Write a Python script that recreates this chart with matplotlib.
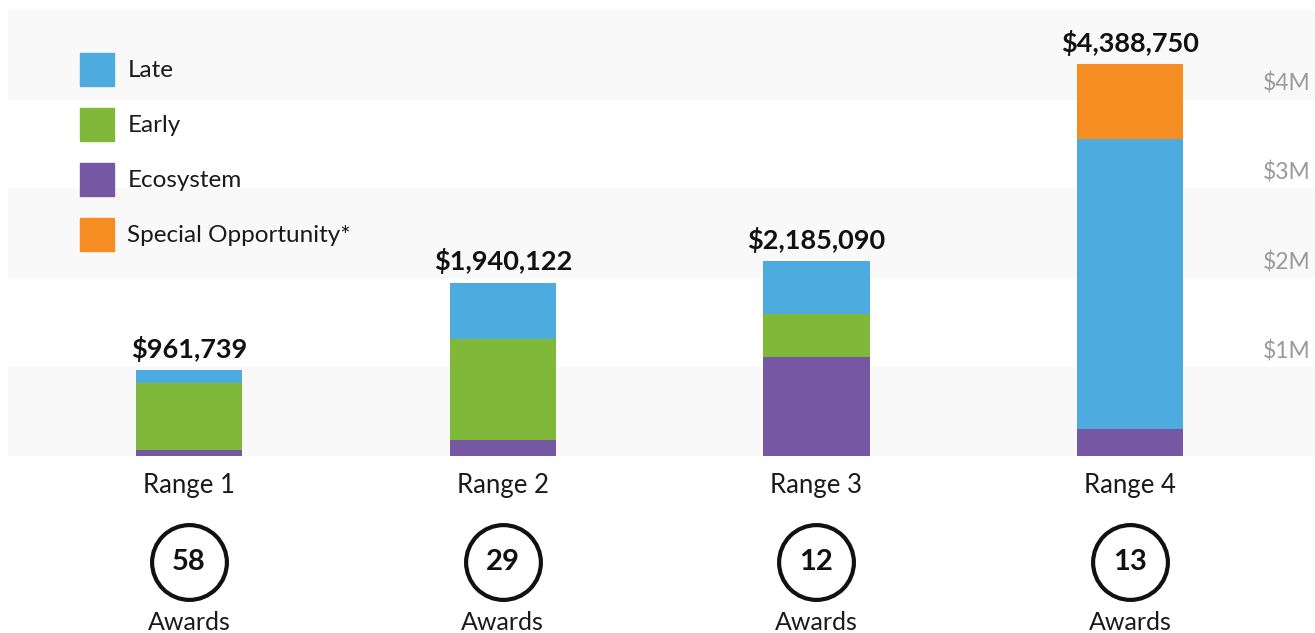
import matplotlib.pyplot as plt
import numpy as np

ranges = ["Range 1", "Range 2", "Range 3", "Range 4"]
awards = [58, 29, 12, 13]
totals = [961739, 1940122, 2185090, 4388750]

# stacked segments, in $M, bottom to top
ecosystem = [0.065, 0.18, 1.11, 0.30]
early = [0.75, 1.13, 0.48, 0.0]
late = [0.147, 0.63, 0.595, 3.25]
special = [0.0, 0.0, 0.0, 0.839]

series = ["Late", "Early", "Ecosystem", "Special Opportunity*"]
colors = {"Late": "#4eabe0", "Early": "#80b83a",
          "Ecosystem": "#7657a4", "Special Opportunity*": "#f68d22"}
yticks = [1, 2, 3, 4]

plt.rcParams["font.family"] = ["Lato", "DejaVu Sans"]

fig = plt.figure(figsize=(13.15, 6.33), dpi=100)
ax = fig.add_axes([8 / 1315, 1 - 456 / 633, 1307 / 1315, 446.5 / 633])
ax.set_xlim(-0.577, 3.589)
ax.set_ylim(0, 5)
ax.axis("off")

# light background bands
for lo in [0, 2, 4]:
    ax.axhspan(lo, lo + 1, color="#f9f9f9", zorder=0)

x = np.arange(len(ranges))
w = 0.338
bottom = np.zeros(len(ranges))
for name, vals in [("Ecosystem", ecosystem), ("Early", early),
                   ("Late", late), ("Special Opportunity*", special)]:
    ax.bar(x, vals, w, bottom=bottom, color=colors[name], zorder=2)
    bottom += np.array(vals)

for xi, t in zip(x, totals):
    ax.annotate(f"${t:,}", (xi, t / 1e6), xytext=(0, 6), textcoords="offset points",
                ha="center", va="bottom", fontsize=19.5, fontweight="bold", color="#111111")

# y tick labels on the right
for v in yticks:
    ax.text(0.96, v + 0.17, f"${v}M", transform=ax.get_yaxis_transform(),
            ha="left", va="center", fontsize=16.5, color="#9a9a9a")

# categories, award circles
px = 89.3
for xi, name, n in zip(x, ranges, awards):
    ax.text(xi, -30 / px, name, ha="center", va="center", fontsize=18.5, color="#1a1a1a")
    ax.scatter([xi], [-106 / px], s=2900, facecolor="white", edgecolor="#111111",
               linewidth=3, clip_on=False, zorder=3)
    ax.text(xi, -106 / px, str(n), ha="center", va="center", fontsize=21,
            fontweight="bold", color="#111111", zorder=4)
    ax.text(xi, -166 / px, "Awards", ha="center", va="center", fontsize=18, color="#1a1a1a")

handles = [plt.Rectangle((0, 0), 1, 1, color=colors[s]) for s in series]
ax.legend(handles, series, loc="upper left", bbox_to_anchor=(80 / 1315, 1 - 53 / 633),
          bbox_transform=fig.transFigure, frameon=False, fontsize=17.5, borderpad=0,
          borderaxespad=0, handlelength=1.4, handleheight=1.7, handletextpad=0.55,
          labelspacing=0.91, labelcolor="#1a1a1a")

fig.savefig("out.png", dpi=100)
